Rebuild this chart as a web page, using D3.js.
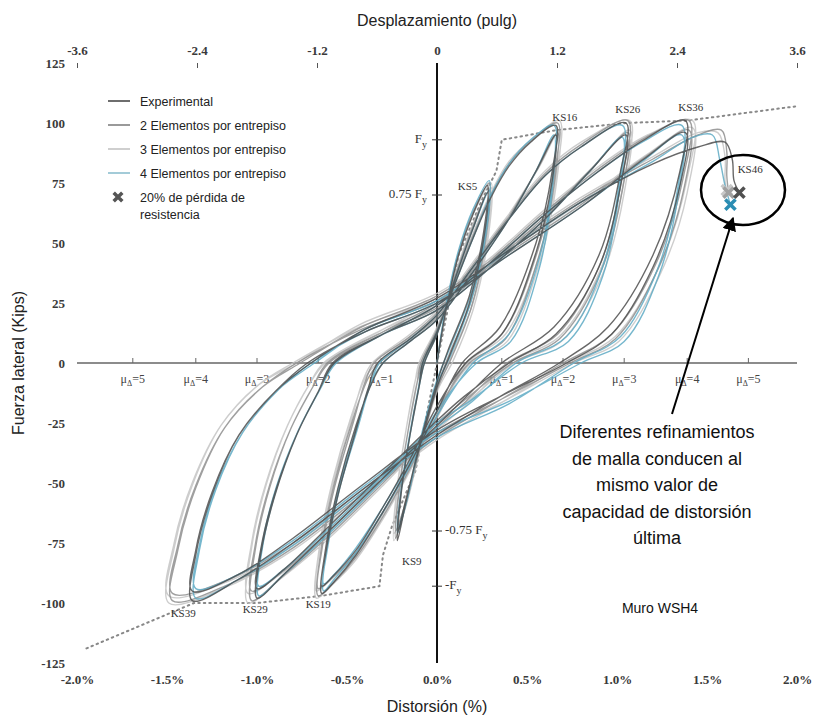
<!DOCTYPE html>
<html>
<head>
<meta charset="utf-8">
<script src="https://cdn.jsdelivr.net/npm/d3@7"></script>
<style>
  body { margin: 0; background: #fff; }
  svg { display: block; }
</style>
</head>
<body>
<div id="chart"></div>
<script>
// axis ticks
var driftTicks = [-2.0, -1.5, -1.0, -0.5, 0.0, 0.5, 1.0, 1.5, 2.0];
var dispTicks = [-3.6, -2.4, -1.2, 0, 1.2, 2.4, 3.6];
var forceTicks = [-125, -100, -75, -50, -25, 0, 25, 50, 75, 100, 125];

// ductility marks on the zero line (drift %)
var muNeg = [-0.31, -0.66, -1.0, -1.34, -1.69];
var muPos = [0.36, 0.70, 1.04, 1.39, 1.73];

// yield force levels (kips)
var fyLevels = [93, 70, -70, -93];

// series: [drift %, force kips]
var experimental = [
  [0,0],[0.05,22],[0.12,45],[0.2,62],[0.28,74],
  [0.26,55],[0.18,28],[0.06,5],[0,-8],[-0.1,-35],[-0.17,-57],[-0.22,-74],
  [-0.2,-55],[-0.15,-30],[-0.1,-10],[-0.07,0],[0,12],[0.1,35],[0.2,56],[0.28,71],
  [0.26,52],[0.18,25],[0.07,3],[0,-10],[-0.1,-36],[-0.17,-56],[-0.22,-71],
  [-0.2,-54],[-0.15,-30],[-0.1,-10],[-0.08,0],[0,13],[0.1,33],[0.2,52],[0.3,69],[0.4,82],[0.52,92],[0.66,99],
  [0.64,80],[0.55,50],[0.35,15],[0.14,0],[0,-20],[-0.15,-42],[-0.3,-62],[-0.45,-80],[-0.57,-91],[-0.64,-96],
  [-0.62,-78],[-0.55,-52],[-0.45,-26],[-0.36,-8],[-0.3,0],[-0.15,9],[0,18],[0.2,38],[0.4,60],[0.55,80],[0.66,95],
  [0.64,76],[0.55,46],[0.36,12],[0.16,0],[0,-18],[-0.15,-40],[-0.3,-60],[-0.45,-78],[-0.58,-89],[-0.64,-93],
  [-0.62,-80],[-0.55,-55],[-0.45,-28],[-0.38,-10],[-0.33,0],[-0.15,10],[0,20],[0.2,40],[0.4,60],[0.6,78],[0.8,90],[1.05,100],
  [1.02,80],[0.9,45],[0.65,15],[0.36,0],[0.15,-15],[0,-26],[-0.3,-48],[-0.6,-70],[-0.85,-88],[-1.0,-98],
  [-0.98,-80],[-0.9,-55],[-0.78,-30],[-0.66,-12],[-0.58,0],[-0.3,12],[0,22],[0.3,40],[0.6,60],[0.85,80],[1.05,95],
  [1.02,74],[0.9,40],[0.66,12],[0.4,0],[0.15,-14],[0,-24],[-0.3,-46],[-0.6,-68],[-0.85,-86],[-1.0,-94],
  [-0.98,-78],[-0.9,-54],[-0.78,-30],[-0.66,-12],[-0.57,0],[-0.3,12],[0,24],[0.3,42],[0.6,62],[0.9,80],[1.15,93],[1.38,101],
  [1.35,80],[1.2,45],[0.95,15],[0.68,0],[0.35,-14],[0,-30],[-0.4,-52],[-0.8,-75],[-1.1,-90],[-1.36,-99],
  [-1.34,-80],[-1.25,-55],[-1.1,-30],[-0.9,-12],[-0.72,0],[-0.4,13],[0,25],[0.4,45],[0.8,65],[1.15,85],[1.38,96],
  [1.35,74],[1.2,40],[0.97,12],[0.72,0],[0.35,-14],[0,-28],[-0.4,-50],[-0.8,-73],[-1.1,-88],[-1.36,-95],
  [-1.34,-78],[-1.25,-54],[-1.1,-30],[-0.9,-12],[-0.7,0],[-0.4,14],[0,27],[0.4,47],[0.8,67],[1.2,83],[1.45,90],[1.6,92],[1.64,85],[1.65,76],[1.68,71]
];
var elem2 = [
  [0,0],[0.05,23],[0.12,46],[0.2,63],[0.29,75],
  [0.27,54],[0.19,26],[0.07,4],[0,-10],[-0.1,-37],[-0.17,-58],[-0.23,-73],
  [-0.21,-53],[-0.16,-28],[-0.11,-8],[-0.08,0],[0,13],[0.1,36],[0.2,57],[0.29,72],
  [0.27,51],[0.19,23],[0.08,2],[0,-11],[-0.1,-37],[-0.17,-57],[-0.23,-70],
  [-0.21,-52],[-0.16,-28],[-0.11,-8],[-0.09,0],[0,14],[0.1,34],[0.2,53],[0.3,70],[0.4,83],[0.53,93],[0.67,100],
  [0.65,78],[0.56,47],[0.37,13],[0.16,0],[0,-22],[-0.15,-44],[-0.3,-64],[-0.45,-81],[-0.58,-92],[-0.66,-97],
  [-0.64,-76],[-0.57,-50],[-0.47,-24],[-0.38,-6],[-0.32,0],[-0.15,10],[0,19],[0.2,39],[0.4,61],[0.56,81],[0.67,96],
  [0.65,74],[0.56,43],[0.38,10],[0.18,0],[0,-20],[-0.15,-42],[-0.3,-62],[-0.45,-79],[-0.59,-90],[-0.66,-94],
  [-0.64,-78],[-0.57,-52],[-0.47,-26],[-0.4,-8],[-0.35,0],[-0.15,11],[0,21],[0.2,41],[0.4,61],[0.6,79],[0.8,91],[1.06,101],
  [1.03,78],[0.91,42],[0.67,12],[0.39,0],[0.16,-16],[0,-27],[-0.3,-50],[-0.6,-72],[-0.86,-89],[-1.03,-99],
  [-1.01,-78],[-0.93,-52],[-0.81,-27],[-0.69,-10],[-0.61,0],[-0.3,13],[0,23],[0.3,41],[0.6,61],[0.86,81],[1.06,96],
  [1.03,72],[0.91,38],[0.68,10],[0.42,0],[0.16,-15],[0,-25],[-0.3,-48],[-0.6,-70],[-0.86,-87],[-1.03,-95],
  [-1.01,-76],[-0.93,-51],[-0.81,-27],[-0.69,-10],[-0.6,0],[-0.3,13],[0,25],[0.3,43],[0.6,63],[0.9,81],[1.16,94],[1.4,101],
  [1.37,78],[1.22,42],[0.97,12],[0.7,0],[0.36,-15],[0,-31],[-0.4,-54],[-0.8,-77],[-1.15,-92],[-1.47,-99],
  [-1.44,-78],[-1.34,-52],[-1.18,-27],[-0.97,-10],[-0.78,0],[-0.42,14],[0,26],[0.4,46],[0.8,66],[1.16,86],[1.4,97],
  [1.37,72],[1.22,38],[0.99,10],[0.74,0],[0.36,-15],[0,-29],[-0.4,-52],[-0.8,-75],[-1.15,-90],[-1.47,-96],
  [-1.44,-76],[-1.34,-51],[-1.18,-27],[-0.97,-10],[-0.76,0],[-0.42,15],[0,28],[0.4,48],[0.8,68],[1.2,85],[1.45,95],[1.58,97],[1.61,88],[1.61,78],[1.62,71]
];
var elem3 = [
  [0,0],[0.05,22],[0.12,45],[0.2,62],[0.3,75],
  [0.28,53],[0.2,25],[0.08,3],[0,-11],[-0.1,-38],[-0.17,-59],[-0.24,-74],
  [-0.22,-52],[-0.17,-27],[-0.12,-7],[-0.09,0],[0,14],[0.1,37],[0.2,58],[0.3,73],
  [0.28,50],[0.2,22],[0.09,1],[0,-12],[-0.1,-38],[-0.17,-58],[-0.24,-71],
  [-0.22,-51],[-0.17,-27],[-0.12,-7],[-0.1,0],[0,15],[0.1,35],[0.2,54],[0.3,71],[0.4,84],[0.54,94],[0.68,101],
  [0.66,77],[0.57,45],[0.38,12],[0.17,0],[0,-23],[-0.15,-45],[-0.3,-65],[-0.45,-82],[-0.59,-93],[-0.67,-98],
  [-0.65,-75],[-0.58,-49],[-0.48,-23],[-0.39,-5],[-0.33,0],[-0.15,11],[0,20],[0.2,40],[0.4,62],[0.57,82],[0.68,97],
  [0.66,73],[0.57,42],[0.39,9],[0.19,0],[0,-21],[-0.15,-43],[-0.3,-63],[-0.45,-80],[-0.6,-91],[-0.67,-95],
  [-0.65,-77],[-0.58,-51],[-0.48,-25],[-0.41,-7],[-0.36,0],[-0.15,12],[0,22],[0.2,42],[0.4,62],[0.6,80],[0.8,92],[1.07,101],
  [1.04,77],[0.92,41],[0.68,11],[0.4,0],[0.17,-17],[0,-28],[-0.3,-51],[-0.6,-73],[-0.87,-90],[-1.05,-100],
  [-1.03,-77],[-0.95,-51],[-0.83,-26],[-0.71,-9],[-0.63,0],[-0.3,14],[0,24],[0.3,42],[0.6,62],[0.87,82],[1.07,97],
  [1.04,71],[0.92,37],[0.69,9],[0.43,0],[0.17,-16],[0,-26],[-0.3,-49],[-0.6,-71],[-0.87,-88],[-1.05,-96],
  [-1.03,-75],[-0.95,-50],[-0.83,-26],[-0.71,-9],[-0.62,0],[-0.3,14],[0,26],[0.3,44],[0.6,64],[0.9,82],[1.17,95],[1.42,101],
  [1.39,77],[1.24,41],[0.99,11],[0.72,0],[0.37,-16],[0,-32],[-0.4,-55],[-0.8,-78],[-1.16,-93],[-1.49,-100],
  [-1.46,-77],[-1.36,-51],[-1.2,-26],[-0.99,-9],[-0.8,0],[-0.43,15],[0,27],[0.4,47],[0.8,67],[1.17,87],[1.42,98],
  [1.39,71],[1.24,37],[1.01,9],[0.76,0],[0.37,-16],[0,-30],[-0.4,-53],[-0.8,-76],[-1.16,-91],[-1.49,-97],
  [-1.46,-75],[-1.36,-50],[-1.2,-26],[-0.99,-9],[-0.78,0],[-0.43,16],[0,29],[0.4,49],[0.8,69],[1.2,86],[1.45,96],[1.56,96],[1.6,86],[1.6,76],[1.61,72]
];
var elem4 = [
  [0,0],[0.05,24],[0.12,47],[0.2,64],[0.29,76],
  [0.27,56],[0.19,29],[0.07,6],[0,-7],[-0.1,-34],[-0.16,-55],[-0.22,-71],
  [-0.2,-54],[-0.15,-30],[-0.1,-10],[-0.07,0],[0,12],[0.1,35],[0.2,56],[0.29,72],
  [0.27,53],[0.19,26],[0.08,4],[0,-9],[-0.1,-35],[-0.16,-55],[-0.22,-69],
  [-0.2,-53],[-0.15,-29],[-0.1,-9],[-0.08,0],[0,13],[0.1,33],[0.2,52],[0.3,70],[0.4,83],[0.52,93],[0.65,99],
  [0.64,76],[0.57,44],[0.4,12],[0.2,0],[0,-22],[-0.15,-43],[-0.3,-62],[-0.45,-79],[-0.57,-90],[-0.63,-95],
  [-0.61,-76],[-0.54,-50],[-0.44,-25],[-0.36,-7],[-0.3,0],[-0.15,9],[0,18],[0.2,38],[0.4,60],[0.55,80],[0.65,95],
  [0.64,72],[0.57,40],[0.41,9],[0.22,0],[0,-20],[-0.15,-41],[-0.3,-60],[-0.45,-77],[-0.57,-88],[-0.63,-92],
  [-0.61,-78],[-0.54,-52],[-0.44,-27],[-0.37,-9],[-0.32,0],[-0.15,10],[0,20],[0.2,40],[0.4,60],[0.6,78],[0.8,90],[1.03,99],
  [1.01,74],[0.92,40],[0.72,11],[0.44,0],[0.18,-17],[0,-27],[-0.3,-49],[-0.6,-71],[-0.85,-88],[-0.99,-97],
  [-0.97,-77],[-0.89,-52],[-0.77,-28],[-0.65,-11],[-0.57,0],[-0.3,12],[0,22],[0.3,40],[0.6,60],[0.85,80],[1.03,94],
  [1.01,70],[0.92,36],[0.73,9],[0.47,0],[0.18,-16],[0,-25],[-0.3,-47],[-0.6,-69],[-0.85,-86],[-0.99,-93],
  [-0.97,-75],[-0.89,-51],[-0.77,-28],[-0.65,-11],[-0.56,0],[-0.3,12],[0,24],[0.3,42],[0.6,62],[0.9,80],[1.14,92],[1.36,99],
  [1.34,74],[1.23,40],[1.02,11],[0.76,0],[0.4,-17],[0,-31],[-0.4,-53],[-0.8,-76],[-1.1,-90],[-1.34,-98],
  [-1.32,-78],[-1.23,-53],[-1.08,-29],[-0.88,-11],[-0.7,0],[-0.4,13],[0,25],[0.4,45],[0.8,65],[1.14,84],[1.36,95],
  [1.34,70],[1.23,36],[1.04,9],[0.8,0],[0.4,-16],[0,-29],[-0.4,-51],[-0.8,-74],[-1.1,-88],[-1.34,-94],
  [-1.32,-76],[-1.23,-52],[-1.08,-29],[-0.88,-11],[-0.68,0],[-0.4,14],[0,26],[0.4,47],[0.8,67],[1.2,84],[1.42,94],[1.53,95],[1.57,85],[1.6,74],[1.63,66]
];

// dotted envelope
var envelopePos = [[0,0],[0.12,45],[0.25,68],[0.33,80],[0.36,93],[0.66,97],[1.05,100],[1.39,101],[2.0,107]];
var envelopeNeg = [[0,0],[-0.12,-45],[-0.25,-68],[-0.3,-80],[-0.32,-93],[-0.64,-97],[-1.0,-100],[-1.35,-100],[-1.95,-119]];

// 20% strength loss points
var lossPoints = [
  { name: "3 Elementos", x: 1.61, y: 72 },
  { name: "2 Elementos", x: 1.62, y: 71 },
  { name: "Experimental", x: 1.68, y: 71 },
  { name: "4 Elementos", x: 1.63, y: 66 }
];
var lossColors = ["#c8c8c8", "#a0a0a0", "#505050", "#2b8db3"];

// load step labels
var ksLabels = [
  { t: "KS5", x: 0.17, y: 72 }, { t: "KS9", x: -0.14, y: -84 },
  { t: "KS16", x: 0.71, y: 101 }, { t: "KS19", x: -0.66, y: -102 },
  { t: "KS26", x: 1.06, y: 104 }, { t: "KS29", x: -1.01, y: -104 },
  { t: "KS36", x: 1.41, y: 105 }, { t: "KS39", x: -1.41, y: -106 },
  { t: "KS46", x: 1.74, y: 79 }
];

var seriesNames = ["Experimental", "2 Elementos por entrepiso", "3 Elementos por entrepiso", "4 Elementos por entrepiso"];
var seriesData = [experimental, elem2, elem3, elem4];
var seriesColors = ["#4d4d4d", "#8e8e8e", "#c4c4c4", "#5eaac4"];
var legendColors = ["#6e6e6e", "#9a9a9a", "#cfcfcf", "#a3cbd8"];

var W = 823, H = 719;
var svg = d3.select("#chart").append("svg")
  .attr("width", W).attr("height", H)
  .style("font-family", "Liberation Sans, Arial, sans-serif");

var x = d3.scaleLinear().domain([-2, 2]).range([77, 797]);
var xTop = d3.scaleLinear().domain([-3.6, 3.6]).range([77, 797]);
var y = d3.scaleLinear().domain([-125, 125]).range([663, 63]);

var serif = "Liberation Serif, Times New Roman, serif";

function styleAxis(g) {
  g.attr("font-family", serif).attr("font-size", 13);
  g.select(".domain").remove();
  g.selectAll(".tick line").attr("stroke", "#555");
  g.selectAll(".tick text").attr("font-family", serif).attr("font-weight", "bold")
    .attr("font-size", 13).attr("fill", "#3a3a3a");
}

// axes
svg.append("g").attr("transform", "translate(0,663)")
  .call(d3.axisBottom(x).tickValues(driftTicks).tickSize(0).tickPadding(12)
    .tickFormat(function(d){ return d.toFixed(1) + "%"; }))
  .call(styleAxis);
svg.append("g").attr("transform", "translate(0,63)")
  .call(d3.axisTop(xTop).tickValues(dispTicks).tickSizeInner(-5).tickSizeOuter(0).tickPadding(8)
    .tickFormat(function(d){ return String(d); }))
  .call(styleAxis);
svg.append("g").attr("transform", "translate(77,0)")
  .call(d3.axisLeft(y).tickValues(forceTicks).tickSize(0).tickPadding(12)
    .tickFormat(function(d){ return String(d); }))
  .call(styleAxis);

// axis titles
svg.append("text").attr("x", 437).attr("y", 26).attr("text-anchor", "middle")
  .attr("font-size", 16).attr("fill", "#222").text("Desplazamiento (pulg)");
svg.append("text").attr("x", 437).attr("y", 712).attr("text-anchor", "middle")
  .attr("font-size", 16).attr("fill", "#222").text("Distorsión (%)");
svg.append("text").attr("transform", "translate(24,363) rotate(-90)").attr("text-anchor", "middle")
  .attr("font-size", 16).attr("fill", "#222").text("Fuerza lateral (Kips)");

// zero lines
svg.append("line").attr("x1", x(-2)).attr("x2", x(2)).attr("y1", y(0)).attr("y2", y(0))
  .attr("stroke", "#666").attr("stroke-width", 1.6);
svg.append("line").attr("x1", x(0)).attr("x2", x(0)).attr("y1", y(125)).attr("y2", y(-125))
  .attr("stroke", "#111").attr("stroke-width", 2);

// ductility ticks and labels
var muAll = muNeg.map(function(v, i){ return { v: v, n: i + 1 }; })
  .concat(muPos.map(function(v, i){ return { v: v, n: i + 1 }; }));
svg.selectAll(".mutick").data(muAll).enter().append("line")
  .attr("x1", function(d){ return x(d.v); }).attr("x2", function(d){ return x(d.v); })
  .attr("y1", y(0)).attr("y2", y(0) - 5).attr("stroke", "#666");
var muText = svg.selectAll(".mutext").data(muAll).enter().append("text")
  .attr("x", function(d){ return x(d.v); }).attr("y", y(0) + 20)
  .attr("text-anchor", "middle").attr("font-family", serif).attr("font-size", 12).attr("fill", "#444");
muText.append("tspan").text("μ");
muText.append("tspan").attr("font-size", 8).attr("dy", 3).text("Δ");
muText.append("tspan").attr("dy", -3).text("=");
muText.append("tspan").text(function(d){ return d.n; });

// yield level ticks
svg.selectAll(".fytick").data(fyLevels).enter().append("line")
  .attr("x1", x(0) - 5).attr("x2", x(0) + 5)
  .attr("y1", function(d){ return y(d); }).attr("y2", function(d){ return y(d); })
  .attr("stroke", "#333");
function fyLabel(txt, px, py, anchor) {
  var t = svg.append("text").attr("x", px).attr("y", py).attr("text-anchor", anchor)
    .attr("font-family", serif).attr("font-size", 13).attr("fill", "#333");
  t.append("tspan").text(txt + "F");
  t.append("tspan").attr("font-size", 10).attr("dy", 5).text("y");
}
fyLabel("", x(0) - 10, y(93) + 3, "end");
fyLabel("0.75 ", x(0) - 10, y(70) + 3, "end");
fyLabel("-0.75 ", x(0) + 8, y(-70) + 3, "start");
fyLabel("-", x(0) + 8, y(-93) + 3, "start");

// envelope
var lineStraight = d3.line().x(function(d){ return x(d[0]); }).y(function(d){ return y(d[1]); });
[envelopePos, envelopeNeg].forEach(function(env){
  svg.append("path").attr("d", lineStraight(env)).attr("fill", "none")
    .attr("stroke", "#888").attr("stroke-width", 2).attr("stroke-dasharray", "1.5,4")
    .attr("stroke-linecap", "round");
});

// hysteresis loops
var loop = d3.line().curve(d3.curveCatmullRom.alpha(0.5))
  .x(function(d){ return x(d[0]); }).y(function(d){ return y(d[1]); });
var drawOrder = [2, 1, 3, 0];
drawOrder.forEach(function(i){
  svg.append("path").attr("d", loop(seriesData[i])).attr("fill", "none")
    .attr("stroke", seriesColors[i]).attr("stroke-width", 1.4).attr("stroke-opacity", 0.85);
});

// KS labels
svg.selectAll(".ks").data(ksLabels).enter().append("text")
  .attr("x", function(d){ return x(d.x); }).attr("y", function(d){ return y(d.y); })
  .attr("text-anchor", "middle").attr("font-family", serif).attr("font-size", 11)
  .attr("fill", "#333").text(function(d){ return d.t; });

// loss markers
var cross = d3.symbol().type(d3.symbolX).size(70);
svg.selectAll(".loss").data(lossPoints).enter().append("path")
  .attr("d", cross)
  .attr("transform", function(d){ return "translate(" + x(d.x) + "," + y(d.y) + ")"; })
  .attr("stroke", function(d, i){ return lossColors[i]; }).attr("stroke-width", 3.5)
  .attr("fill", "none");

// circle around KS46
svg.append("ellipse").attr("cx", 743).attr("cy", 190).attr("rx", 42).attr("ry", 35)
  .attr("fill", "none").attr("stroke", "#000").attr("stroke-width", 2.5);

// arrow
svg.append("defs").append("marker").attr("id", "ah").attr("viewBox", "0 0 10 10")
  .attr("refX", 9).attr("refY", 5).attr("markerWidth", 7).attr("markerHeight", 7)
  .attr("orient", "auto").append("path").attr("d", "M0,0 L10,5 L0,10 z").attr("fill", "#000");
svg.append("line").attr("x1", 672).attr("y1", 414).attr("x2", 733).attr("y2", 218)
  .attr("stroke", "#000").attr("stroke-width", 2).attr("marker-end", "url(#ah)");

// annotation
var note = ["Diferentes refinamientos", "de malla conducen al", "mismo valor de", "capacidad de distorsión", "última"];
svg.selectAll(".note").data(note).enter().append("text")
  .attr("x", 657).attr("y", function(d, i){ return 438 + i * 26.5; })
  .attr("text-anchor", "middle").attr("font-size", 18).attr("fill", "#111")
  .text(function(d){ return d; });
svg.append("text").attr("x", 660).attr("y", 613).attr("text-anchor", "middle")
  .attr("font-size", 14).attr("fill", "#111").text("Muro WSH4");

// legend
var legend = svg.append("g").attr("transform", "translate(108,101)");
seriesNames.forEach(function(n, i){
  var g = legend.append("g").attr("transform", "translate(0," + i * 24 + ")");
  g.append("line").attr("x1", 0).attr("x2", 22).attr("y1", 0).attr("y2", 0)
    .attr("stroke", legendColors[i]).attr("stroke-width", 2);
  g.append("text").attr("x", 32).attr("y", 4.5).attr("font-size", 12.5).attr("fill", "#222").text(n);
});
var lg = legend.append("g").attr("transform", "translate(0,96)");
lg.append("path").attr("d", d3.symbol().type(d3.symbolX).size(50))
  .attr("transform", "translate(10,0)").attr("stroke", "#555").attr("stroke-width", 3.5);
lg.append("text").attr("x", 32).attr("y", 4.5).attr("font-size", 12.5).attr("fill", "#222").text("20% de pérdida de");
lg.append("text").attr("x", 32).attr("y", 22).attr("font-size", 12.5).attr("fill", "#222").text("resistencia");
</script>
</body>
</html>
